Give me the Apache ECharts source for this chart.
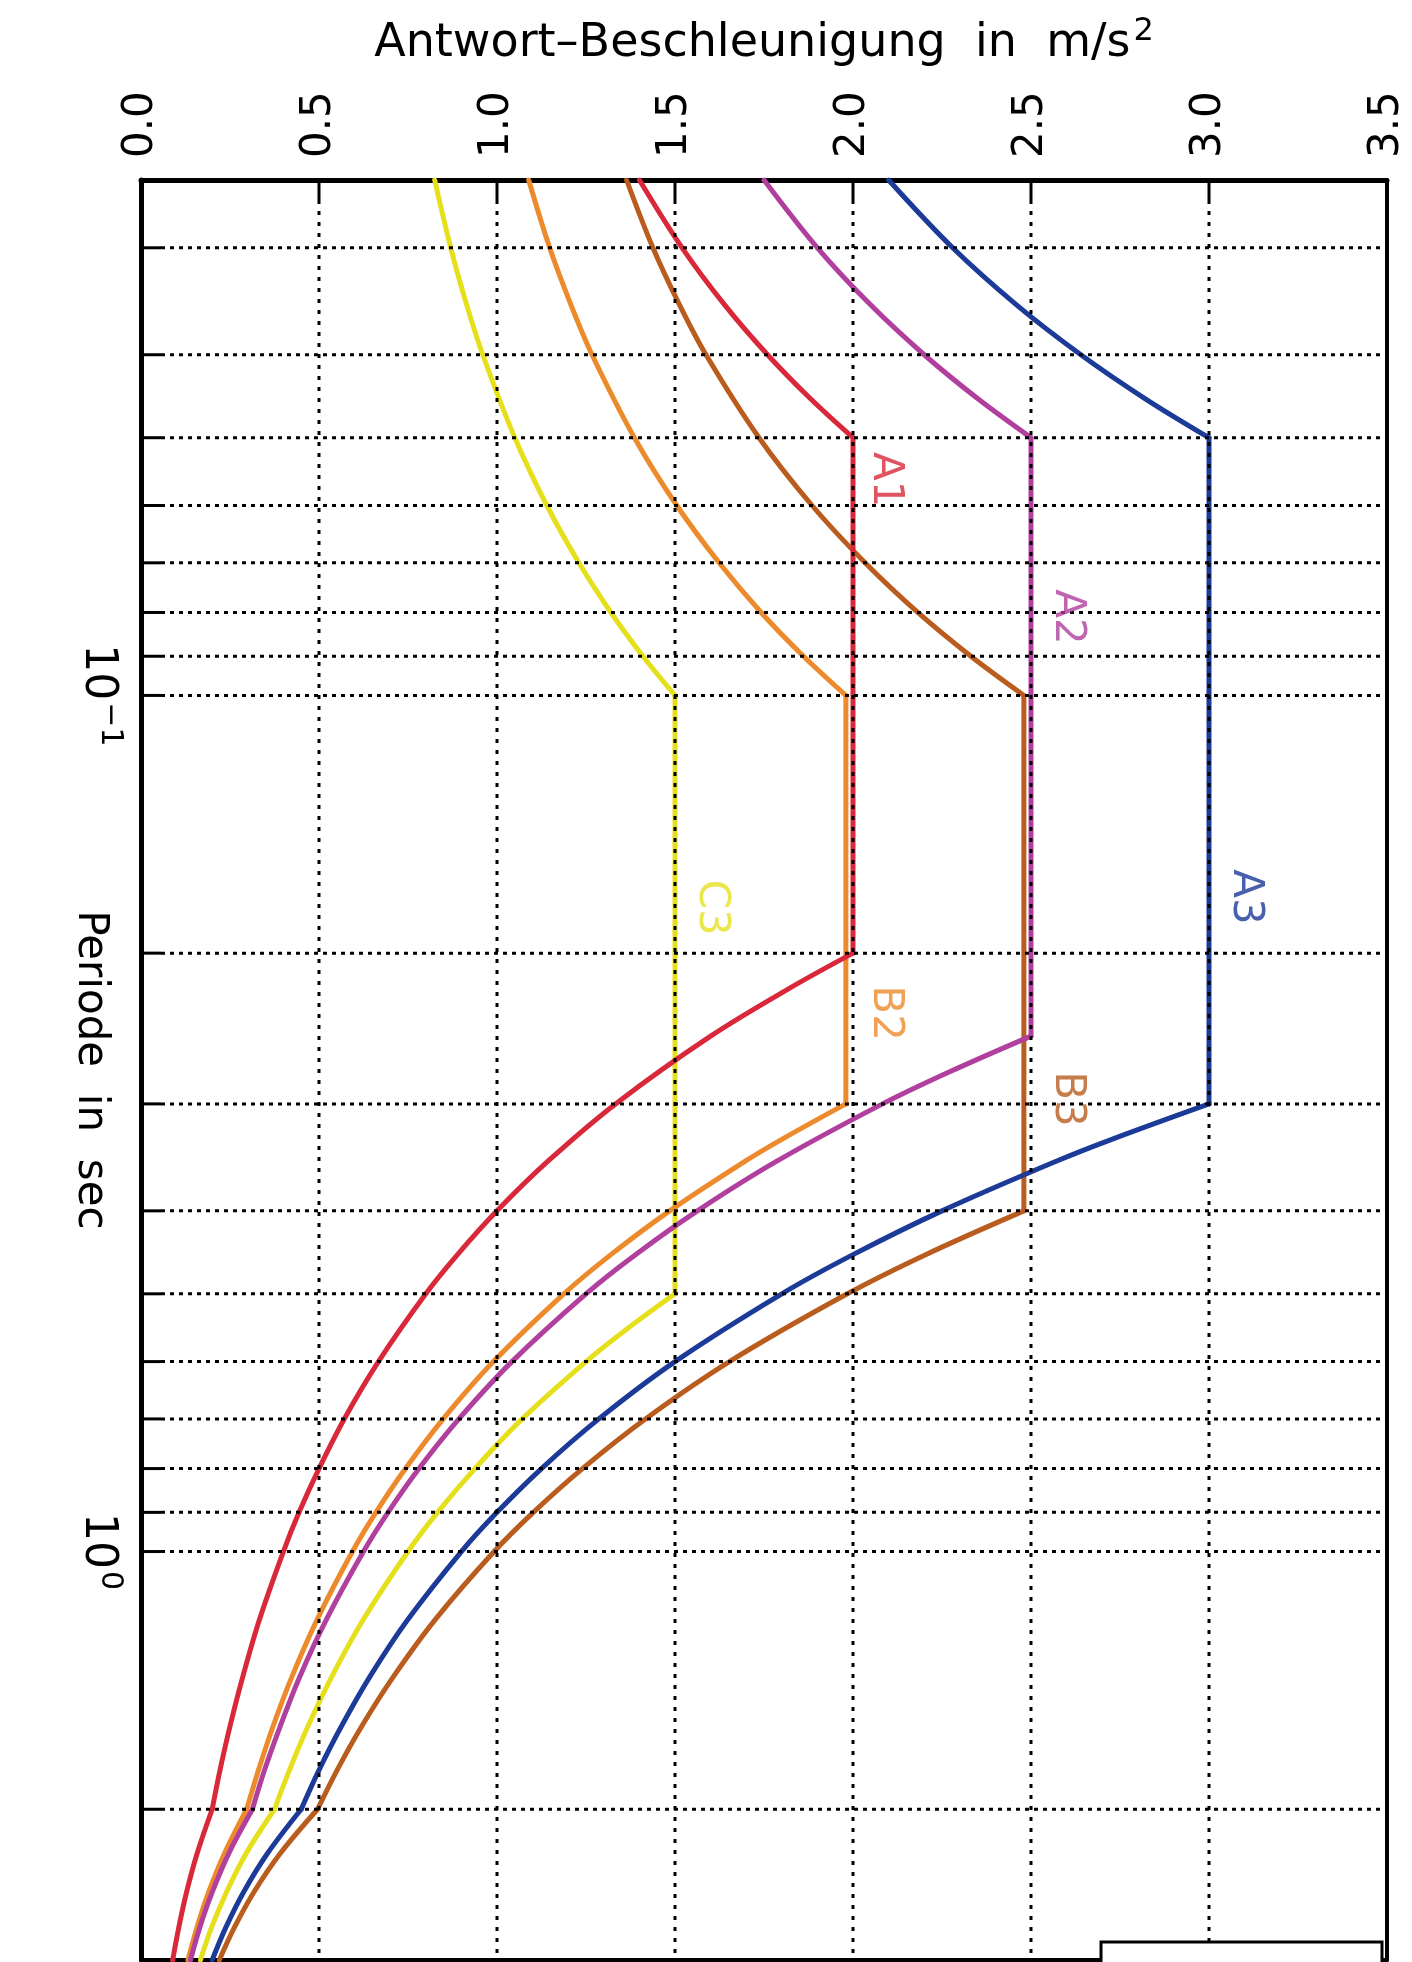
<!DOCTYPE html>
<html><head><meta charset="utf-8">
<script src="https://cdn.jsdelivr.net/npm/echarts/dist/echarts.min.js"></script>
<style>html,body{margin:0;padding:0;background:#fff}#c{width:1412px;height:1962px}</style>
</head><body><div id="c"></div>
<script>
// ---- data: [period in s, response acceleration in m/s^2] ----
const A1 = [[0.025,1.40],[0.03,1.52],[0.035,1.64],[0.04,1.76],[0.045,1.88],[0.05,2.00],[0.2,2.00],[0.22,1.82],[0.25,1.60],[0.3,1.333],[0.35,1.143],[0.4,1.00],[0.45,0.889],[0.5,0.80],[0.6,0.667],[0.7,0.571],[0.8,0.50],[0.9,0.444],[1.0,0.40],[1.2,0.333],[1.4,0.286],[1.6,0.25],[1.8,0.222],[2.0,0.20],[2.25,0.158],[2.5,0.128],[2.75,0.106],[3.0,0.089]];
const A2 = [[0.025,1.75],[0.03,1.90],[0.035,2.05],[0.04,2.20],[0.045,2.35],[0.05,2.50],[0.25,2.50],[0.275,2.273],[0.3,2.083],[0.35,1.786],[0.4,1.563],[0.45,1.389],[0.5,1.25],[0.6,1.042],[0.7,0.893],[0.8,0.781],[0.9,0.694],[1.0,0.625],[1.2,0.521],[1.4,0.446],[1.6,0.391],[1.8,0.347],[2.0,0.313],[2.25,0.247],[2.5,0.20],[2.75,0.165],[3.0,0.139]];
const A3 = [[0.025,2.10],[0.03,2.28],[0.035,2.46],[0.04,2.64],[0.045,2.82],[0.05,3.00],[0.3,3.00],[0.33,2.727],[0.35,2.571],[0.4,2.25],[0.45,2.00],[0.5,1.80],[0.6,1.50],[0.7,1.286],[0.8,1.125],[0.9,1.00],[1.0,0.90],[1.2,0.75],[1.4,0.643],[1.6,0.563],[1.8,0.50],[2.0,0.45],[2.25,0.356],[2.5,0.288],[2.75,0.238],[3.0,0.20]];
const B2 = [[0.025,1.089],[0.03,1.148],[0.035,1.208],[0.04,1.267],[0.05,1.386],[0.06,1.505],[0.07,1.624],[0.08,1.742],[0.09,1.861],[0.1,1.98],[0.3,1.98],[0.33,1.80],[0.35,1.697],[0.4,1.485],[0.45,1.32],[0.5,1.188],[0.6,0.99],[0.7,0.849],[0.8,0.743],[0.9,0.66],[1.0,0.594],[1.2,0.495],[1.4,0.424],[1.6,0.371],[1.8,0.33],[2.0,0.297],[2.25,0.235],[2.5,0.19],[2.75,0.157],[3.0,0.132]];
const B3 = [[0.025,1.364],[0.03,1.438],[0.035,1.513],[0.04,1.587],[0.05,1.736],[0.06,1.885],[0.07,2.034],[0.08,2.182],[0.09,2.331],[0.1,2.48],[0.4,2.48],[0.45,2.204],[0.5,1.984],[0.6,1.653],[0.7,1.417],[0.8,1.24],[0.9,1.102],[1.0,0.992],[1.2,0.827],[1.4,0.709],[1.6,0.62],[1.8,0.551],[2.0,0.496],[2.25,0.392],[2.5,0.317],[2.75,0.262],[3.0,0.22]];
const C3 = [[0.025,0.825],[0.03,0.87],[0.035,0.915],[0.04,0.96],[0.05,1.05],[0.06,1.14],[0.07,1.23],[0.08,1.32],[0.09,1.41],[0.1,1.5],[0.5,1.5],[0.55,1.364],[0.6,1.25],[0.7,1.071],[0.8,0.938],[0.9,0.833],[1.0,0.75],[1.2,0.625],[1.4,0.536],[1.6,0.469],[1.8,0.417],[2.0,0.375],[2.25,0.296],[2.5,0.24],[2.75,0.198],[3.0,0.167]];

// corner periods where the curve shape changes (kinks)
const CORNERS = {A1:[0.05,0.2,2.0], A2:[0.05,0.25,2.0], A3:[0.05,0.3,2.0], B2:[0.1,0.3,2.0], B3:[0.1,0.4,2.0], C3:[0.1,0.5,2.0]};

const SERIES_NAMES = ['C3','B2','B3','A1','A2','A3'];
// label anchor positions: [period, acceleration]
const LABEL_POS = {A1:[0.056,2.09], A2:[0.081,2.60], A3:[0.172,3.10], B2:[0.235,2.09], B3:[0.296,2.60], C3:[0.177,1.60]};

const ACC_MIN = 0, ACC_MAX = 3.5, ACC_STEP = 0.5;
const ACC_GRID = [0.5, 1.0, 1.5, 2.0, 2.5, 3.0];
const PERIOD_MIN = 0.025, PERIOD_MAX = 3.0;
const PERIOD_GRID = [0.03,0.04,0.05,0.06,0.07,0.08,0.09,0.1,0.2,0.3,0.4,0.5,0.6,0.7,0.8,0.9,1,2];
const PERIOD_LABELS = [[0.1,'10','−1'],[1,'10','0']];

const X_TITLE = 'Antwort–Beschleunigung  in  m/s';
const X_TITLE_SUP = '2';
const Y_TITLE = 'Periode  in  sec';

const COLORS = {A1:'#d8283a', A2:'#b03f9e', A3:'#1c3a98', B2:'#ec8a2c', B3:'#b95c1e', C3:'#e6e01c'};
const DATA = {A1, A2, A3, B2, B3, C3};
const FONT = 'DejaVu Sans';

const chart = echarts.init(document.getElementById('c'), null, {renderer:'canvas'});

function hGrid(params, api) {
  const cs = params.coordSys;
  const y = api.coord([0, api.value(1)])[1];
  const x0 = cs.x, x1 = cs.x + cs.width;
  return {type:'group', children:[
    {type:'line', shape:{x1:x0, y1:y, x2:x0+20, y2:y}, style:{stroke:'#000', lineWidth:3}},
    {type:'line', shape:{x1:x0+20, y1:y, x2:x1-6, y2:y}, style:{stroke:'#000', lineWidth:3, lineDash:[4,5]}}
  ]};
}
function vGrid(params, api) {
  const cs = params.coordSys;
  const x = api.coord([api.value(0), 1])[0];
  return {type:'group', children:[
    {type:'line', shape:{x1:x, y1:cs.y, x2:x, y2:cs.y+20}, style:{stroke:'#000', lineWidth:3}},
    {type:'line', shape:{x1:x, y1:cs.y+20, x2:x, y2:cs.y+cs.height}, style:{stroke:'#000', lineWidth:3, lineDash:[4,7]}}
  ]};
}

// split each curve at its corner periods so smoothing never rounds a kink
function splitAtCorners(pts, corners) {
  const parts = [];
  let cur = [];
  pts.forEach(p => {
    cur.push(p);
    if (corners.some(c => Math.abs(c - p[0]) < 1e-9)) { parts.push(cur); cur = [p]; }
  });
  if (cur.length > 1) parts.push(cur);
  return parts;
}

const series = [];
SERIES_NAMES.forEach(n => {
  splitAtCorners(DATA[n], CORNERS[n]).forEach(part => {
    series.push({
      name:n, type:'line', data: part.map(p => [p[1], p[0]]),
      showSymbol:false, symbol:'none', smooth:0.35, z:3,
      lineStyle:{color:COLORS[n], width:5, cap:'round', join:'round'}, itemStyle:{color:COLORS[n]}, silent:true
    });
  });
});
SERIES_NAMES.forEach(n => {
  const p = LABEL_POS[n];
  series.push({
    type:'scatter', data:[[p[1], p[0]]], symbolSize:1, itemStyle:{color:'rgba(0,0,0,0)'}, z:6, silent:true,
    label:{show:true, position:'inside', rotate:-90, formatter:n, color:COLORS[n], fontFamily:FONT, fontSize:42}
  });
});
series.push({type:'custom', renderItem:hGrid, data:PERIOD_GRID.map(t => [0, t]), z:5, silent:true});
series.push({type:'custom', renderItem:vGrid, data:ACC_GRID.map(a => [a, 1]), z:5, silent:true});

const option = {
  backgroundColor:'#fff',
  animation:false,
  grid:{left:141, right:25, top:180, bottom:2, containLabel:false, outerBoundsMode:'none'},
  xAxis:[{
    type:'value', position:'top', min:ACC_MIN, max:ACC_MAX, interval:ACC_STEP,
    name:'{a|' + X_TITLE + '}{s|' + X_TITLE_SUP + '}', nameLocation:'middle', nameGap:108, nameMoveOverlap:false,
    nameTextStyle:{fontFamily:FONT, fontSize:46, color:'#000',
      rich:{a:{fontFamily:FONT, fontSize:46, lineHeight:56, color:'#000'}, s:{fontFamily:FONT, fontSize:32, lineHeight:32, color:'#000', verticalAlign:'top', padding:[0,0,0,3]}}},
    axisLine:{show:true, onZero:false, lineStyle:{color:'#000', width:5}},
    axisTick:{show:false}, splitLine:{show:false},
    axisLabel:{show:true, rotate:-90, margin:22, fontFamily:FONT, fontSize:42, color:'#000',
      showMinLabel:true, showMaxLabel:true, formatter: v => v.toFixed(1)}
  },{
    type:'value', position:'bottom', min:0, max:1,
    axisLine:{show:true, onZero:false, lineStyle:{color:'#000', width:4}},
    axisTick:{show:false}, axisLabel:{show:false}, splitLine:{show:false}
  }],
  yAxis:[{
    type:'log', logBase:10, min:PERIOD_MIN, max:PERIOD_MAX, inverse:true, position:'left',
    name:Y_TITLE, nameLocation:'middle', nameRotate:-90, nameGap:30, nameMoveOverlap:false,
    nameTextStyle:{fontFamily:FONT, fontSize:42, color:'#000'},
    axisLine:{show:true, onZero:false, lineStyle:{color:'#000', width:5}},
    axisTick:{show:false}, splitLine:{show:false}, minorTick:{show:false},
    axisLabel:{show:true, rotate:-90, margin:16, showMinLabel:true, showMaxLabel:true,
      formatter: v => { for (const l of PERIOD_LABELS) { if (Math.abs(v - l[0]) < 1e-6 * l[0]) return '{b|' + l[1] + '}{s|' + l[2] + '}'; } return ''; },
      rich:{b:{fontFamily:FONT, fontSize:44, lineHeight:56, color:'#000'}, s:{fontFamily:FONT, fontSize:30, lineHeight:30, color:'#000', verticalAlign:'top', padding:[0,0,0,2]}}}
  },{
    type:'value', position:'right', min:0, max:1,
    axisLine:{show:true, onZero:false, lineStyle:{color:'#000', width:4}},
    axisTick:{show:false}, axisLabel:{show:false}, splitLine:{show:false}
  }],
  graphic:[{
    type:'rect', z:100, shape:{x:1101, y:1942, width:281, height:30},
    style:{fill:'#fff', stroke:'#000', lineWidth:3}
  }],
  series: series
};
chart.setOption(option);
</script></body></html>
